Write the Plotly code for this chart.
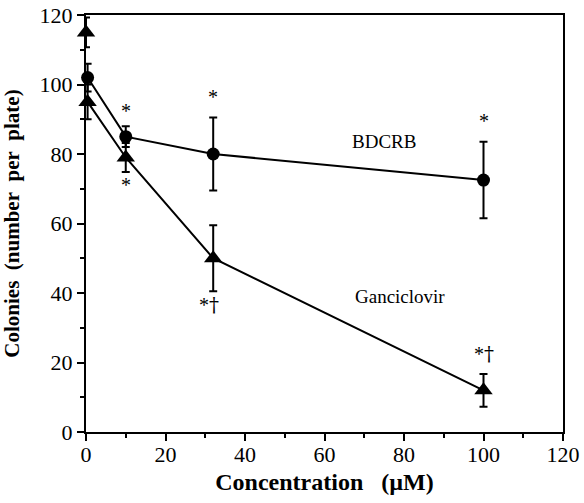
import plotly.graph_objects as go

# Data
conc = [0.4, 10, 32, 100]
bdcrb = [102, 85, 80, 72.5]
bdcrb_err = [4, 3, 10.5, 11]
ganc = [95, 79, 50, 12]
ganc_err = [5, 4.2, 9.5, 4.7]
control_x = [0]
control_y = [115]
control_err = [4.3]

ann_x = [10, 10, 32, 31, 100, 100]
ann_y = [92.5, 71, 96.5, 36.5, 89.5, 22.5]
ann_text = ["*", "*", "*", "*\u2020", "*", "*\u2020"]

label_x = [75, 79]
label_y = [83.5, 39]
label_text = ["BDCRB", "Ganciclovir"]

x_ticks = [0, 20, 40, 60, 80, 100, 120]
y_ticks = [0, 20, 40, 60, 80, 100, 120]

font = "Liberation Serif, Times New Roman, serif"

fig = go.Figure()
fig.add_trace(go.Scatter(
    x=control_x, y=control_y, mode="markers",
    marker=dict(symbol="triangle-up", size=16, color="black"),
    error_y=dict(type="data", array=control_err, color="black", thickness=2, width=4),
    cliponaxis=False, showlegend=False))
fig.add_trace(go.Scatter(
    x=conc, y=bdcrb, mode="lines+markers",
    line=dict(color="black", width=2),
    marker=dict(symbol="circle", size=13, color="black"),
    error_y=dict(type="data", array=bdcrb_err, color="black", thickness=2, width=4),
    cliponaxis=False, showlegend=False))
fig.add_trace(go.Scatter(
    x=conc, y=ganc, mode="lines+markers",
    line=dict(color="black", width=2),
    marker=dict(symbol="triangle-up", size=16, color="black"),
    error_y=dict(type="data", array=ganc_err, color="black", thickness=2, width=4),
    cliponaxis=False, showlegend=False))

for x, y, t in zip(ann_x, ann_y, ann_text):
    txt = t.replace("\u2020", '<span style="font-family:DejaVu Serif">\u2020</span>')
    fig.add_annotation(x=x, y=y, text=txt, showarrow=False,
                       font=dict(family=font, size=20, color="#000000"))
for x, y, t in zip(label_x, label_y, label_text):
    fig.add_annotation(x=x, y=y, text=t, showarrow=False,
                       font=dict(family=font, size=19, color="#000000"))

axis_common = dict(
    showline=True, linecolor="black", linewidth=2, mirror=True,
    ticks="outside", ticklen=7, tickwidth=2, tickcolor="black",
    showgrid=False, zeroline=False, automargin=False,
    tickfont=dict(family=font, size=22, color="black"),
    minor=dict(ticks="outside", ticklen=4, tickwidth=1.5, tickcolor="black", dtick=10),
)

fig.update_xaxes(range=[0, 120], tickvals=x_ticks, **axis_common, ticklabelstandoff=-5,
                 title=dict(text="<b>Concentration&nbsp;&nbsp; (\u00b5M)</b>",
                            font=dict(family=font, size=24, color="black"), standoff=7))
fig.update_yaxes(range=[0, 120], tickvals=y_ticks, **axis_common,
                 title=dict(text="<b>Colonies&nbsp; (number&nbsp; per&nbsp; plate)</b>",
                            font=dict(family=font, size=21, color="black"), standoff=16))

fig.update_layout(
    width=584, height=503, autosize=False,
    margin=dict(l=86, r=21, t=15, b=71),
    plot_bgcolor="white", paper_bgcolor="white",
)

fig.write_html(
    "out.html",
    config={"displayModeBar": False},
    post_script="document.body.style.margin='0px';document.body.style.overflow='hidden';",
)
